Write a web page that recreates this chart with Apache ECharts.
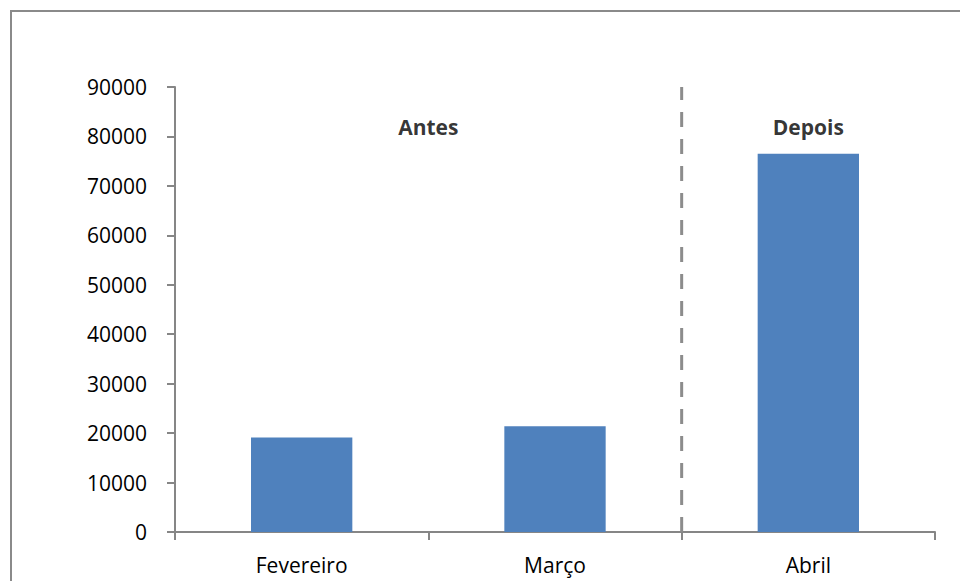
<!DOCTYPE html>
<html>
<head>
<meta charset="utf-8">
<script src="https://cdn.jsdelivr.net/npm/echarts@6/dist/echarts.min.js"></script>
<style>
  html, body { margin: 0; padding: 0; background: #fff; }
  #chart { width: 960px; height: 581px; }
</style>
</head>
<body>
<div id="chart"></div>
<script>
var months = ['Fevereiro', 'Março', 'Abril'];
var visits = [19100, 21400, 76500];
var yTicks = [0, 10000, 20000, 30000, 40000, 50000, 60000, 70000, 80000, 90000];
var periodNames = ['Antes', 'Depois'];
var periodPos = [0.5, 2];      // category index where each period label sits
var periodY = [82000, 82000];
var dividerAt = 1.5;           // between Março and Abril

var axisGray = '#868686';
var font = '"Open Sans", sans-serif';

var chart = echarts.init(document.getElementById('chart'), null, { renderer: 'svg' });
chart.setOption({
  animation: false,
  graphic: [{
    type: 'rect',
    shape: { x: 11, y: 11, width: 980, height: 620 },
    style: { fill: 'none', stroke: '#8a8a8a', lineWidth: 2 },
    silent: true
  }],
  grid: { left: 175, right: 25, top: 87, bottom: 49 },
  xAxis: [{
    type: 'category',
    data: months,
    axisLine: { lineStyle: { color: axisGray, width: 2 } },
    axisTick: { show: true, length: 8, lineStyle: { color: axisGray, width: 2 } },
    axisLabel: { color: '#000', fontSize: 21, fontFamily: font, margin: 22 }
  }, {
    type: 'value',
    min: -0.5,
    max: 2.5,
    show: false
  }],
  yAxis: {
    type: 'value',
    min: yTicks[0],
    max: yTicks[yTicks.length - 1],
    interval: yTicks[1] - yTicks[0],
    axisLine: { show: true, onZero: false, lineStyle: { color: axisGray, width: 2 } },
    axisTick: { show: true, length: 8, lineStyle: { color: axisGray, width: 2 } },
    axisLabel: {
      color: '#000', fontSize: 21, fontFamily: font, margin: 28,
      formatter: function(v) { return String(v); }
    },
    splitLine: { show: false }
  },
  series: [{
    type: 'bar',
    data: visits,
    barWidth: '40%',
    itemStyle: { color: '#4f81bd' }
  }, {
    type: 'line',
    xAxisIndex: 1,
    data: [[dividerAt, yTicks[0]], [dividerAt, yTicks[yTicks.length - 1]]],
    symbol: 'none',
    lineStyle: { color: '#8c8c8c', width: 3, type: [15, 12] },
    silent: true
  }, {
    type: 'scatter',
    xAxisIndex: 1,
    symbolSize: 0,
    data: periodNames.map(function(n, i) { return { value: [periodPos[i], periodY[i]], name: n }; }),
    label: {
      show: true,
      position: 'inside',
      formatter: '{b}',
      color: '#000',
      textBorderWidth: 0,
      fontSize: 21,
      fontWeight: 'bold',
      fontFamily: font
    },
    silent: true
  }]
});
</script>
</body>
</html>
